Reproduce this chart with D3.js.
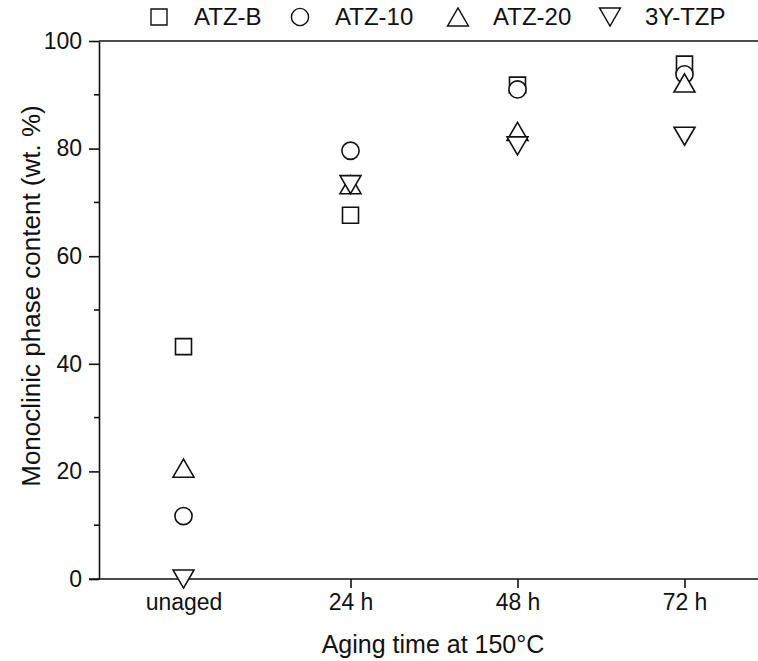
<!DOCTYPE html>
<html>
<head>
<meta charset="utf-8">
<script src="https://cdn.jsdelivr.net/npm/d3@7"></script>
<style>
body { margin: 0; background: #fff; }
text { font-family: "Liberation Sans", Arial, sans-serif; fill: #111; }
.axis path, .axis line { stroke: #111; stroke-width: 1.6; }
</style>
</head>
<body>
<script>
var categories = ["unaged", "24 h", "48 h", "72 h"];
var atzB = [43.2, 67.6, 91.8, 95.7];
var atz10 = [11.7, 79.6, 91.0, 93.8];
var atz20 = [20.6, 73.3, 83.2, 92.2];
var tzp = [0, 73.3, 80.5, 82.3];
var seriesNames = ["ATZ-B", "ATZ-10", "ATZ-20", "3Y-TZP"];
var yTicks = [0, 20, 40, 60, 80, 100];
var yMinor = [10, 30, 50, 70, 90];

var W = 758, H = 661;
var margin = { top: 41, left: 99, bottom: 82 };

var svg = d3.select("body").append("svg")
	.attr("width", W)
	.attr("height", H);

// Origin style triangles, centred on their bounding box; size = width
var triUp = {
	draw: function (ctx, size) {
		var w = size, h = size * 0.86;
		ctx.moveTo(0, -h / 2);
		ctx.lineTo(w / 2, h / 2);
		ctx.lineTo(-w / 2, h / 2);
		ctx.closePath();
	}
};
var triDown = {
	draw: function (ctx, size) {
		var w = size, h = size * 0.86;
		ctx.moveTo(0, h / 2);
		ctx.lineTo(w / 2, -h / 2);
		ctx.lineTo(-w / 2, -h / 2);
		ctx.closePath();
	}
};

var markers = [
	{ name: seriesNames[0], values: atzB, type: d3.symbolSquare, size: 256 },
	{ name: seriesNames[1], values: atz10, type: d3.symbolCircle, size: 232 },
	{ name: seriesNames[2], values: atz20, type: triUp, size: 21 },
	{ name: seriesNames[3], values: tzp, type: triDown, size: 21 }
];

var x = d3.scalePoint()
	.domain(categories)
	.range([margin.left + 1, margin.left + 669])
	.padding(0.5);

var y = d3.scaleLinear()
	.domain([0, 100])
	.range([H - margin.bottom, margin.top]);

// top frame line
svg.append("line")
	.attr("x1", margin.left)
	.attr("x2", W)
	.attr("y1", y(100))
	.attr("y2", y(100))
	.style("stroke", "#111")
	.style("stroke-width", 1.6);

var yAxis = svg.append("g")
	.attr("class", "axis")
	.attr("transform", "translate(" + margin.left + ",0)")
	.call(d3.axisLeft(y).tickValues(yTicks).tickSize(10).tickSizeOuter(0).tickPadding(7));
yAxis.selectAll("text").style("font-size", "23px");

yAxis.selectAll(".minor")
	.data(yMinor)
	.enter().append("line")
	.attr("class", "minor")
	.attr("x1", -5)
	.attr("x2", 0)
	.attr("y1", d => y(d))
	.attr("y2", d => y(d));

var xAxis = svg.append("g")
	.attr("class", "axis")
	.attr("transform", "translate(0," + y(0) + ")")
	.call(d3.axisBottom(x).tickSize(9).tickSizeOuter(0).tickPadding(6));
xAxis.select(".domain").attr("d", "M" + (margin.left - 10) + ",0H" + (W + 20));
xAxis.selectAll("text").style("font-size", "23px");

svg.append("text")
	.attr("transform", "translate(40," + ((y(0) + y(100)) / 2 - 14) + ") rotate(-90)")
	.attr("text-anchor", "middle")
	.style("font-size", "26px")
	.text("Monoclinic phase content (wt. %)");

svg.append("text")
	.attr("x", 433)
	.attr("y", 653)
	.attr("text-anchor", "middle")
	.style("font-size", "25px")
	.text("Aging time at 150°C");

// data markers
markers.forEach(function (m) {
	svg.append("g").selectAll("path")
		.data(m.values)
		.enter().append("path")
		.attr("transform", (d, i) => "translate(" + x(categories[i]) + "," + y(d) + ")")
		.attr("d", d3.symbol().type(m.type).size(m.size))
		.style("fill", "#fff")
		.style("stroke", "#111")
		.style("stroke-width", 1.6);
});

// legend
var legendX = [159, 300, 458, 610];
var legend = svg.append("g").selectAll("g")
	.data(markers)
	.enter().append("g")
	.attr("transform", (d, i) => "translate(" + legendX[i] + ",17)");
legend.append("path")
	.attr("d", d => d3.symbol().type(d.type).size(d.size)())
	.style("fill", "#fff")
	.style("stroke", "#111")
	.style("stroke-width", 1.4);
legend.append("text")
	.attr("x", 35)
	.attr("y", 8)
	.style("font-size", "24px")
	.text(d => d.name);
</script>
</body>
</html>
